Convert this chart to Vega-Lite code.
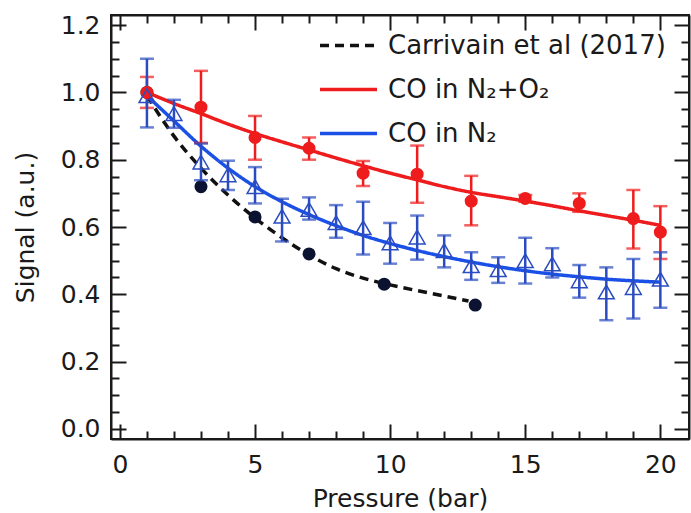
{
  "$schema": "https://vega.github.io/schema/vega-lite/v6.json",
  "width": 578,
  "height": 424,
  "autosize": "none",
  "padding": {"left": 111, "top": 15, "right": 2, "bottom": 74},
  "background": "white",
  "config": {
    "view": {"stroke": "#1a1a1a", "strokeWidth": 2},
    "font": "DejaVu Sans",
    "axis": {
      "labelFont": "DejaVu Sans", "titleFont": "DejaVu Sans",
      "labelFontSize": 25, "titleFontSize": 25, "titleFontWeight": "normal",
      "labelColor": "#1a1a1a", "titleColor": "#1a1a1a", "grid": false,
      "domainColor": "#1a1a1a", "domainWidth": 2, "tickColor": "#1a1a1a", "tickWidth": 2,
      "labelOverlap": false, "labelFlush": false
    }
  },
  "datasets": {
    "fits": [
      {"series": "Carrivain et al (2017)", "P": 1, "S": 0.99},
      {"series": "Carrivain et al (2017)", "P": 2, "S": 0.87},
      {"series": "Carrivain et al (2017)", "P": 3, "S": 0.775},
      {"series": "Carrivain et al (2017)", "P": 4, "S": 0.695},
      {"series": "Carrivain et al (2017)", "P": 5, "S": 0.627},
      {"series": "Carrivain et al (2017)", "P": 6, "S": 0.568},
      {"series": "Carrivain et al (2017)", "P": 7, "S": 0.517},
      {"series": "Carrivain et al (2017)", "P": 8, "S": 0.476},
      {"series": "Carrivain et al (2017)", "P": 9, "S": 0.448},
      {"series": "Carrivain et al (2017)", "P": 10, "S": 0.428},
      {"series": "Carrivain et al (2017)", "P": 11, "S": 0.411},
      {"series": "Carrivain et al (2017)", "P": 12, "S": 0.395},
      {"series": "Carrivain et al (2017)", "P": 12.9, "S": 0.38},
      {"series": "CO in N₂+O₂", "P": 1, "S": 1.0},
      {"series": "CO in N₂+O₂", "P": 2, "S": 0.967},
      {"series": "CO in N₂+O₂", "P": 3, "S": 0.937},
      {"series": "CO in N₂+O₂", "P": 4, "S": 0.906},
      {"series": "CO in N₂+O₂", "P": 5, "S": 0.878},
      {"series": "CO in N₂+O₂", "P": 6, "S": 0.853},
      {"series": "CO in N₂+O₂", "P": 7, "S": 0.829},
      {"series": "CO in N₂+O₂", "P": 8, "S": 0.805},
      {"series": "CO in N₂+O₂", "P": 9, "S": 0.782},
      {"series": "CO in N₂+O₂", "P": 10, "S": 0.76},
      {"series": "CO in N₂+O₂", "P": 11, "S": 0.74},
      {"series": "CO in N₂+O₂", "P": 12, "S": 0.72},
      {"series": "CO in N₂+O₂", "P": 13, "S": 0.703},
      {"series": "CO in N₂+O₂", "P": 14, "S": 0.69},
      {"series": "CO in N₂+O₂", "P": 15, "S": 0.677},
      {"series": "CO in N₂+O₂", "P": 16, "S": 0.663},
      {"series": "CO in N₂+O₂", "P": 17, "S": 0.648},
      {"series": "CO in N₂+O₂", "P": 18, "S": 0.634},
      {"series": "CO in N₂+O₂", "P": 19, "S": 0.62},
      {"series": "CO in N₂+O₂", "P": 20, "S": 0.605},
      {"series": "CO in N₂", "P": 1, "S": 0.99},
      {"series": "CO in N₂", "P": 2, "S": 0.915},
      {"series": "CO in N₂", "P": 3, "S": 0.84},
      {"series": "CO in N₂", "P": 4, "S": 0.775},
      {"series": "CO in N₂", "P": 5, "S": 0.72},
      {"series": "CO in N₂", "P": 6, "S": 0.675},
      {"series": "CO in N₂", "P": 7, "S": 0.637},
      {"series": "CO in N₂", "P": 8, "S": 0.604},
      {"series": "CO in N₂", "P": 9, "S": 0.575},
      {"series": "CO in N₂", "P": 10, "S": 0.551},
      {"series": "CO in N₂", "P": 11, "S": 0.53},
      {"series": "CO in N₂", "P": 12, "S": 0.512},
      {"series": "CO in N₂", "P": 13, "S": 0.496},
      {"series": "CO in N₂", "P": 14, "S": 0.482},
      {"series": "CO in N₂", "P": 15, "S": 0.47},
      {"series": "CO in N₂", "P": 16, "S": 0.46},
      {"series": "CO in N₂", "P": 17, "S": 0.452},
      {"series": "CO in N₂", "P": 18, "S": 0.445},
      {"series": "CO in N₂", "P": 19, "S": 0.44},
      {"series": "CO in N₂", "P": 20, "S": 0.436}
    ],
    "carrivain": [
      {"P": 1, "S": 1.0},
      {"P": 3, "S": 0.72},
      {"P": 5, "S": 0.63},
      {"P": 7, "S": 0.52},
      {"P": 9.78, "S": 0.43},
      {"P": 13.15, "S": 0.368}
    ],
    "n2o2": [
      {"P": 1, "S": 1.0, "lo": 0.954, "hi": 1.046},
      {"P": 3, "S": 0.956, "lo": 0.85, "hi": 1.064},
      {"P": 5, "S": 0.866, "lo": 0.8, "hi": 0.93},
      {"P": 7, "S": 0.834, "lo": 0.8, "hi": 0.866},
      {"P": 9, "S": 0.76, "lo": 0.722, "hi": 0.796},
      {"P": 11, "S": 0.757, "lo": 0.672, "hi": 0.842},
      {"P": 13, "S": 0.677, "lo": 0.605, "hi": 0.752},
      {"P": 15, "S": 0.685, "lo": 0.675, "hi": 0.695},
      {"P": 17, "S": 0.67, "lo": 0.645, "hi": 0.7},
      {"P": 19, "S": 0.625, "lo": 0.536, "hi": 0.71},
      {"P": 20, "S": 0.585, "lo": 0.505, "hi": 0.662}
    ],
    "n2": [
      {"P": 1, "S": 0.99, "lo": 0.896, "hi": 1.1},
      {"P": 2, "S": 0.937, "lo": 0.895, "hi": 0.978},
      {"P": 3, "S": 0.793, "lo": 0.739, "hi": 0.848},
      {"P": 4, "S": 0.755, "lo": 0.71, "hi": 0.797},
      {"P": 5, "S": 0.72, "lo": 0.67, "hi": 0.778},
      {"P": 6, "S": 0.632, "lo": 0.557, "hi": 0.684},
      {"P": 7, "S": 0.652, "lo": 0.622, "hi": 0.688},
      {"P": 8, "S": 0.613, "lo": 0.568, "hi": 0.665},
      {"P": 9, "S": 0.598, "lo": 0.518, "hi": 0.675},
      {"P": 10, "S": 0.553, "lo": 0.491, "hi": 0.612},
      {"P": 11, "S": 0.57, "lo": 0.503, "hi": 0.634},
      {"P": 12, "S": 0.53, "lo": 0.48, "hi": 0.575},
      {"P": 13, "S": 0.485, "lo": 0.443, "hi": 0.525},
      {"P": 14, "S": 0.473, "lo": 0.434, "hi": 0.51},
      {"P": 15, "S": 0.5, "lo": 0.432, "hi": 0.568},
      {"P": 16, "S": 0.49, "lo": 0.45, "hi": 0.537},
      {"P": 17, "S": 0.44, "lo": 0.39, "hi": 0.487},
      {"P": 18, "S": 0.407, "lo": 0.323, "hi": 0.48},
      {"P": 19, "S": 0.42, "lo": 0.328, "hi": 0.505},
      {"P": 20, "S": 0.445, "lo": 0.36, "hi": 0.525}
    ]
  },
  "resolve": {"axis": {"x": "independent", "y": "independent"}},
  "layer": [
    {
      "data": {"name": "fits"},
      "mark": {"type": "line", "strokeWidth": 3.5, "interpolate": "monotone"},
      "encoding": {
        "x": {"field": "P", "type": "quantitative", "scale": {"domain": [-0.33, 21.06], "nice": false, "zero": false},
          "axis": {"orient": "bottom", "values": [0,1,2,3,4,5,6,7,8,9,10,11,12,13,14,15,16,17,18,19,20],
            "tickSize": {"condition": {"test": "datum.value % 5 === 0", "value": -15}, "value": -8},
            "labelExpr": "datum.value % 5 === 0 ? datum.label : ''",
            "labelPadding": 28, "title": "Pressure (bar)", "titlePadding": 2}},
        "y": {"field": "S", "type": "quantitative", "scale": {"domain": [-0.03, 1.23], "nice": false, "zero": false},
          "axis": {"orient": "left", "values": [0,0.05,0.1,0.15,0.2,0.25,0.3,0.35,0.4,0.45,0.5,0.55,0.6,0.65,0.7,0.75,0.8,0.85,0.9,0.95,1.0,1.05,1.1,1.15,1.2],
            "tickSize": {"condition": {"test": "abs(datum.value*5 - round(datum.value*5)) < 0.001", "value": -15}, "value": -8},
            "labelExpr": "abs(datum.value*5 - round(datum.value*5)) < 0.001 ? format(datum.value, '.1f') : ''",
            "labelPadding": 26, "title": "Signal (a.u.)", "titlePadding": 22}},
        "color": {"field": "series", "type": "nominal",
          "scale": {"domain": ["Carrivain et al (2017)", "CO in N₂+O₂", "CO in N₂"], "range": ["#111111", "#ee1c1c", "#1a50e6"]},
          "legend": {"title": null, "orient": "none", "legendX": 207, "legendY": 0, "symbolType": "stroke", "symbolSize": 3249, "symbolStrokeWidth": 3.5, "labelFontSize": 26, "labelFont": "DejaVu Sans", "labelColor": "#1a1a1a", "labelOffset": 9, "rowPadding": -4, "labelLimit": 400}},
        "strokeDash": {"field": "series", "type": "nominal",
          "scale": {"domain": ["Carrivain et al (2017)", "CO in N₂+O₂", "CO in N₂"], "range": [[9, 6], [1, 0], [1, 0]]},
          "legend": {"title": null, "orient": "none", "legendX": 207, "legendY": 0, "symbolType": "stroke", "symbolSize": 3249, "symbolStrokeWidth": 3.5, "labelFontSize": 26, "labelFont": "DejaVu Sans", "labelColor": "#1a1a1a", "labelOffset": 9, "rowPadding": -4, "labelLimit": 400}}
      }
    },
    {
      "data": {"name": "carrivain"},
      "mark": {"type": "circle", "size": 170, "color": "#0b1330", "opacity": 1},
      "encoding": {
        "x": {"field": "P", "type": "quantitative", "scale": {"domain": [-0.33, 21.06], "nice": false, "zero": false},
          "axis": {"orient": "top", "values": [0,1,2,3,4,5,6,7,8,9,10,11,12,13,14,15,16,17,18,19,20],
            "tickSize": {"condition": {"test": "datum.value % 5 === 0", "value": -15}, "value": -8},
            "labels": false, "title": null}},
        "y": {"field": "S", "type": "quantitative", "scale": {"domain": [-0.03, 1.23], "nice": false, "zero": false},
          "axis": {"orient": "right", "values": [0,0.05,0.1,0.15,0.2,0.25,0.3,0.35,0.4,0.45,0.5,0.55,0.6,0.65,0.7,0.75,0.8,0.85,0.9,0.95,1.0,1.05,1.1,1.15,1.2],
            "tickSize": {"condition": {"test": "abs(datum.value*5 - round(datum.value*5)) < 0.001", "value": -15}, "value": -8},
            "labels": false, "title": null}}
      }
    },
    {
      "data": {"name": "n2o2"},
      "mark": {"type": "errorbar", "color": "#ee1c1c", "thickness": 2.5, "ticks": {"size": 14, "thickness": 2.5}},
      "encoding": {
        "x": {"field": "P", "type": "quantitative", "scale": {"domain": [-0.33, 21.06], "nice": false, "zero": false}, "axis": null},
        "y": {"field": "lo", "type": "quantitative", "scale": {"domain": [-0.03, 1.23], "nice": false, "zero": false}, "axis": null},
        "y2": {"field": "hi"}
      }
    },
    {
      "data": {"name": "n2"},
      "mark": {"type": "errorbar", "color": "#2a4cc0", "thickness": 2.5, "ticks": {"size": 14, "thickness": 2.5}},
      "encoding": {
        "x": {"field": "P", "type": "quantitative", "scale": {"domain": [-0.33, 21.06], "nice": false, "zero": false}, "axis": null},
        "y": {"field": "lo", "type": "quantitative", "scale": {"domain": [-0.03, 1.23], "nice": false, "zero": false}, "axis": null},
        "y2": {"field": "hi"}
      }
    },
    {
      "data": {"name": "n2o2"},
      "mark": {"type": "circle", "size": 170, "color": "#ee1c1c", "opacity": 1},
      "encoding": {
        "x": {"field": "P", "type": "quantitative", "scale": {"domain": [-0.33, 21.06], "nice": false, "zero": false}, "axis": null},
        "y": {"field": "S", "type": "quantitative", "scale": {"domain": [-0.03, 1.23], "nice": false, "zero": false}, "axis": null}
      }
    },
    {
      "data": {"name": "n2"},
      "mark": {"type": "point", "shape": "triangle-up", "filled": false, "size": 250, "strokeWidth": 1.5, "color": "#2a4cc0", "opacity": 1},
      "encoding": {
        "x": {"field": "P", "type": "quantitative", "scale": {"domain": [-0.33, 21.06], "nice": false, "zero": false}, "axis": null},
        "y": {"field": "S", "type": "quantitative", "scale": {"domain": [-0.03, 1.23], "nice": false, "zero": false}, "axis": null}
      }
    }
  ]
}
